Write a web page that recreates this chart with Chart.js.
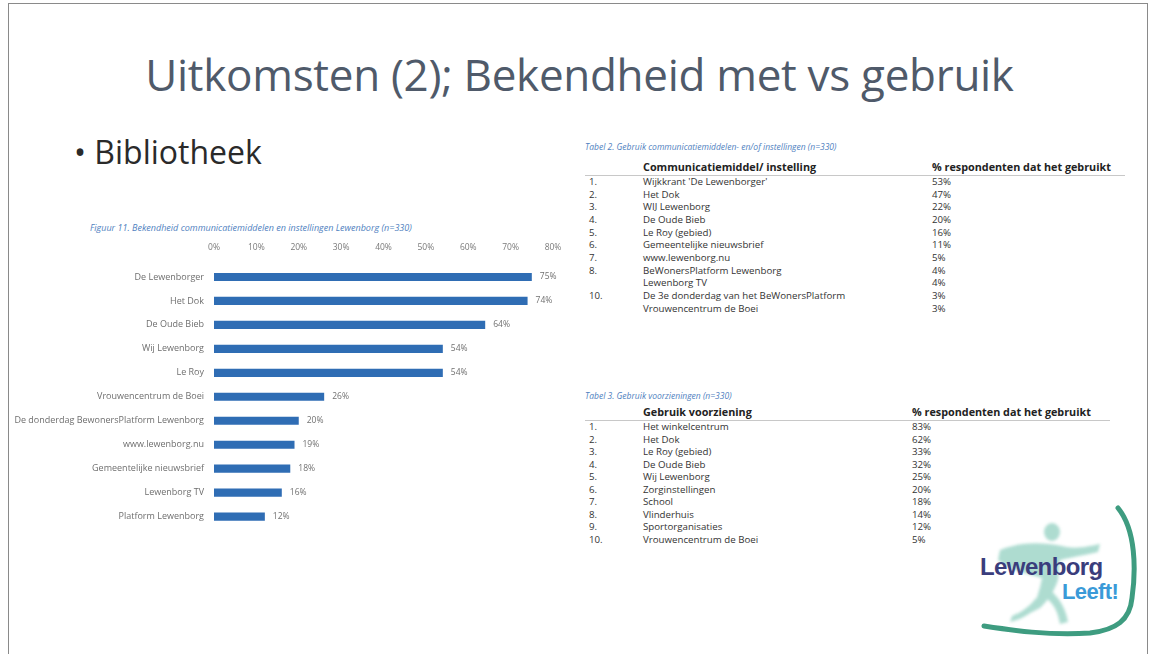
<!DOCTYPE html>
<html>
<head>
<meta charset="utf-8">
<script src="https://cdn.jsdelivr.net/npm/chart.js@4.4.1/dist/chart.umd.min.js"></script>
<style>
  html, body { margin: 0; padding: 0; background: #fff; }
  body { width: 1159px; height: 654px; position: relative; overflow: hidden; font-family: "Open Sans", sans-serif; }
  #frame { position: absolute; left: 8px; top: 3px; width: 1138px; height: 700px; border: 1px solid #8a8a8a; }
  #title { position: absolute; left: 0; top: 44px; width: 1159px; text-align: center; font-size: 44px; color: #4f5a6a; letter-spacing: -0.3px; }
  #bullet { position: absolute; left: 74px; top: 130px; font-size: 32px; color: #2a2a2a; }
  .caption { position: absolute; font-style: italic; color: #4f7fc0; font-size: 8.5px; white-space: nowrap; }
  #chartBox { position: absolute; left: 9px; top: 238px; width: 571px; height: 298px; }
  table { position: absolute; border-collapse: collapse; font-size: 9.7px; color: #333; }
  td, th { padding: 0; height: 12.5px; line-height: 12.5px; white-space: nowrap; text-align: left; }
  th { font-weight: 700; color: #222; border-bottom: 1px solid #c8c8c8; height: 16px; font-size: 10.8px; }
  #logo { position: absolute; left: 940px; top: 480px; }
</style>
</head>
<body>
<div id="frame"></div>
<div id="title">Uitkomsten (2); Bekendheid met vs gebruik</div>
<div id="bullet">• Bibliotheek</div>

<div class="caption" style="left:90px; top:221px; font-size:9px;">Figuur 11. Bekendheid communicatiemiddelen en instellingen Lewenborg (n=330)</div>
<div id="chartBox"><canvas id="bekendChart"></canvas></div>

<div class="caption" style="left:585px; top:141px;">Tabel 2. Gebruik communicatiemiddelen- en/of instellingen (n=330)</div>
<table id="tabel2" style="left:585px; top:159px; width:540px;"></table>

<div class="caption" style="left:585px; top:390px;">Tabel 3. Gebruik voorzieningen (n=330)</div>
<table id="tabel3" style="left:585px; top:404px; width:525px;"></table>

<svg id="logo" width="210" height="170" viewBox="0 0 210 170">
  <defs><filter id="soft"><feGaussianBlur stdDeviation="1.8"/></filter></defs>
  <g fill="#6cc0ab" opacity="0.55" filter="url(#soft)">
    <ellipse cx="112" cy="52" rx="8" ry="9"/>
    <path d="M60 70 C80 62 100 62 122 66 C135 70 150 66 160 64 L158 72 C140 76 128 78 120 80 L118 100 C114 112 108 120 100 128 L92 132 C96 120 100 110 102 98 C90 94 72 92 58 80 Z"/>
    <path d="M100 126 C90 134 80 140 70 142 L72 136 C82 132 90 126 96 118 Z"/>
    <path d="M110 110 C120 118 126 130 128 142 L120 144 C118 132 114 124 106 118 Z"/>
  </g>
  <path d="M178 28 C196 50 196 90 192 118 C190 140 176 150 150 153 C110 156 70 150 44 146" fill="none" stroke="#3e9c80" stroke-width="5" stroke-linecap="round"/>
  <text x="40" y="95" font-family="Liberation Sans, Arial, sans-serif" font-weight="700" font-size="24" fill="#3a3d7c" letter-spacing="-0.6">Lewenborg</text>
  <text x="122" y="119" font-family="Liberation Sans, Arial, sans-serif" font-weight="700" font-size="22" fill="#3a9ad8" letter-spacing="-0.6">Leeft!</text>
</svg>

<script>
// Figuur 11: bekendheid (%)
const categories = [
  'De Lewenborger',
  'Het Dok',
  'De Oude Bieb',
  'Wij Lewenborg',
  'Le Roy',
  'Vrouwencentrum de Boei',
  'De donderdag BewonersPlatform Lewenborg',
  'www.lewenborg.nu',
  'Gemeentelijke nieuwsbrief',
  'Lewenborg TV',
  'Platform Lewenborg'
];
const bekendheid = [75, 74, 64, 54, 54, 26, 20, 19, 18, 16, 12];
const axisMax = 80;
const axisStep = 10;

// Tabel 2
const tabel2Nr = ['1.', '2.', '3.', '4.', '5.', '6.', '7.', '8.', '', '10.', ''];
const tabel2Items = [
  "Wijkkrant 'De Lewenborger'",
  'Het Dok',
  'WIJ Lewenborg',
  'De Oude Bieb',
  'Le Roy (gebied)',
  'Gemeentelijke nieuwsbrief',
  'www.lewenborg.nu',
  'BeWonersPlatform Lewenborg',
  'Lewenborg TV',
  'De 3e donderdag van het BeWonersPlatform',
  'Vrouwencentrum de Boei'
];
const tabel2Pct = [53, 47, 22, 20, 16, 11, 5, 4, 4, 3, 3];

// Tabel 3
const tabel3Nr = ['1.', '2.', '3.', '4.', '5.', '6.', '7.', '8.', '9.', '10.'];
const tabel3Items = [
  'Het winkelcentrum',
  'Het Dok',
  'Le Roy (gebied)',
  'De Oude Bieb',
  'Wij Lewenborg',
  'Zorginstellingen',
  'School',
  'Vlinderhuis',
  'Sportorganisaties',
  'Vrouwencentrum de Boei'
];
const tabel3Pct = [83, 62, 33, 32, 25, 20, 18, 14, 12, 5];

function fillTable(id, head1, nrs, items, pcts, col2, col3, rowH) {
  const t = document.getElementById(id);
  let html = '<tr><th style="width:' + col2 + 'px"></th><th style="width:' + col3 + 'px">' + head1 +
    '</th><th>% respondenten dat het gebruikt</th></tr>';
  items.forEach((item, i) => {
    html += '<tr style="height:' + rowH + 'px;line-height:' + rowH + 'px"><td style="padding-left:4px">' + nrs[i] +
      '</td><td>' + item + '</td><td>' + pcts[i] + '%</td></tr>';
  });
  t.innerHTML = html;
}
fillTable('tabel2', 'Communicatiemiddel/ instelling', tabel2Nr, tabel2Items, tabel2Pct, 58, 289, 12.7);
fillTable('tabel3', 'Gebruik voorziening', tabel3Nr, tabel3Items, tabel3Pct, 58, 269, 12.3);

// value labels right of each bar
const valueLabels = {
  id: 'valueLabels',
  afterDatasetsDraw(chart) {
    const ctx = chart.ctx;
    const meta = chart.getDatasetMeta(0);
    ctx.save();
    ctx.font = '8.5px "Open Sans"';
    ctx.fillStyle = '#707070';
    ctx.textAlign = 'left';
    ctx.textBaseline = 'middle';
    meta.data.forEach((bar, i) => {
      ctx.fillText(bekendheid[i] + '%', bar.x + 8, bar.y);
    });
    ctx.restore();
  }
};

const ctx = document.getElementById('bekendChart').getContext('2d');
new Chart(ctx, {
  type: 'bar',
  data: {
    labels: categories,
    datasets: [{
      data: bekendheid,
      backgroundColor: '#2f6db4',
      barPercentage: 0.34,
      categoryPercentage: 1
    }]
  },
  options: {
    indexAxis: 'y',
    responsive: true,
    maintainAspectRatio: false,
    animation: false,
    layout: { padding: { left: 0, right: 27, top: 0, bottom: 5 } },
    plugins: { legend: { display: false }, tooltip: { enabled: false } },
    scales: {
      x: {
        position: 'top',
        min: 0,
        max: axisMax,
        grid: { display: false },
        border: { display: false },
        afterFit: (scale) => { scale.height = 27; },
        ticks: {
          stepSize: axisStep,
          padding: 4,
          color: '#7a7a7a',
          font: { family: 'Open Sans', size: 8.5 },
          callback: (v) => v + '%'
        }
      },
      y: {
        grid: { display: false },
        border: { display: false },
        afterFit: (scale) => { scale.width = 205; },
        ticks: {
          padding: 2,
          color: '#6e6e6e',
          font: { family: 'Open Sans', size: 9 }
        }
      }
    }
  },
  plugins: [valueLabels]
});
</script>
</body>
</html>
